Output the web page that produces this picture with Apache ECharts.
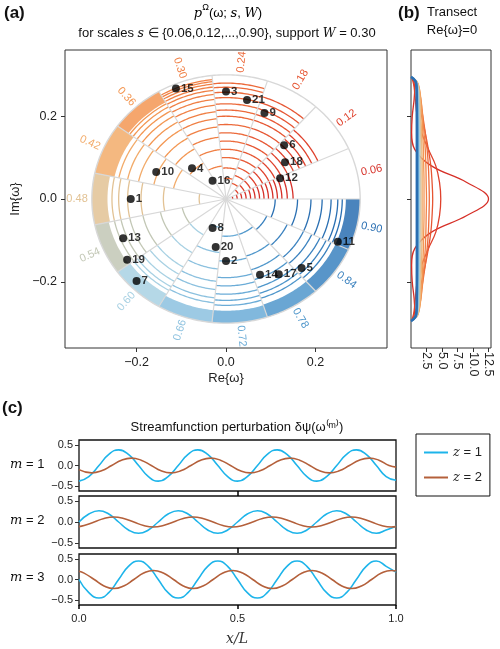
<!DOCTYPE html>
<html><head><meta charset="utf-8">
<script src="https://cdn.jsdelivr.net/npm/echarts@6/dist/echarts.min.js"></script>
<style>html,body{margin:0;padding:0;background:#fff}#c{width:500px;height:649px}</style>
</head><body><div id="c"></div>
<script>
// ---------- DATA ----------
const scales = ['0.06','0.12','0.18','0.24','0.30','0.36','0.42','0.48','0.54','0.60','0.66','0.72','0.78','0.84','0.90'];
const scaleColors = ['#d62f27','#df412c','#e65633','#ec6a3b','#f08045','#f39753','#f2ab6a','#e2c294','#c2c7b5','#a8d1e3','#8cc1df','#6bacd7','#5097cb','#3b82bf','#2a6fb2'];
// arc radii per sector
const arcRadii = [
 [0.015,0.025,0.035,0.045,0.055,0.065,0.075,0.085,0.095,0.105,0.115,0.125,0.137,0.15],
 [0.03,0.045,0.06,0.075,0.09,0.105,0.12,0.135,0.15,0.165,0.18,0.195,0.21,0.225],
 [0.04,0.06,0.08,0.1,0.12,0.14,0.16,0.18,0.2,0.215,0.23,0.245,0.26],
 [0.05,0.075,0.1,0.12,0.14,0.16,0.18,0.2,0.215,0.23,0.245,0.258,0.27,0.28],
 [0.08,0.12,0.15,0.175,0.195,0.212,0.228,0.242,0.254,0.264,0.272,0.279,0.285,0.29],
 [0.1,0.14,0.17,0.195,0.215,0.232,0.246,0.257,0.266],
 [0.12,0.165,0.2,0.225,0.245],
 [0.06,0.14,0.19,0.22,0.24,0.255],
 [0.1,0.15,0.19,0.22,0.24,0.255],
 [0.1,0.15,0.19,0.21,0.23,0.245,0.255],
 [0.07,0.13,0.17,0.2,0.22,0.24,0.252],
 [0.09,0.15,0.19,0.21,0.23,0.245,0.257],
 [0.09,0.145,0.18,0.205,0.225,0.24,0.252],
 [0.1,0.15,0.19,0.21,0.23,0.245,0.257],
 [0.11,0.16,0.19,0.215,0.235,0.25,0.26]
];
// inner radius of dense rim band per sector (null = none)
const bandInner = [null,null,null,null,null,0.27,0.255,0.265,0.268,0.265,0.27,0.27,0.268,0.268,0.268];
// numbered points (Re, Im)
const ptLabels = ['1','2','3','4','5','6','7','8','9','10','11','12','13','14','15','16','17','18','19','20','21'];
const ptRe = [-0.213,0.0,0.0,-0.076,0.169,0.130,-0.200,-0.030,0.086,-0.156,0.250,0.121,-0.230,0.076,-0.112,-0.030,0.118,0.132,-0.221,-0.023,0.047];
const ptIm = [0.0,-0.150,0.260,0.074,-0.167,0.130,-0.198,-0.070,0.208,0.065,-0.103,0.050,-0.095,-0.183,0.267,0.044,-0.182,0.089,-0.147,-0.116,0.239];
// transect (b)
const imPts = [-0.295,-0.285,-0.27,-0.24,-0.2,-0.16,-0.12,-0.08,-0.04,0,0.04,0.08,0.12,0.16,0.2,0.24,0.27,0.285,0.295];
const transect = [
 [0,0.4,0.6,0.5,0.2,0.1,0.6,3.3,9.0,12.5,9.0,3.3,0.6,0.1,0.2,0.5,0.6,0.4,0],
 [0,0.3,0.5,0.7,1.0,1.7,2.8,4.0,4.6,4.8,4.6,4.0,2.8,1.7,1.0,0.7,0.5,0.3,0],
 [0,0.5,0.8,1.2,1.7,2.3,2.8,3.2,3.4,3.5,3.4,3.2,2.8,2.3,1.7,1.2,0.8,0.5,0],
 [0,0.6,1.0,1.4,1.9,2.3,2.6,2.8,2.9,2.95,2.9,2.8,2.6,2.3,1.9,1.4,1.0,0.6,0],
 [0,0.8,1.2,1.6,1.9,2.1,2.3,2.4,2.45,2.5,2.45,2.4,2.3,2.1,1.9,1.6,1.2,0.8,0],
 [0,0.9,1.3,1.6,1.8,1.9,2.0,2.05,2.1,2.1,2.1,2.05,2.0,1.9,1.8,1.6,1.3,0.9,0],
 [0,0.9,1.3,1.5,1.6,1.7,1.75,1.8,1.8,1.8,1.8,1.8,1.75,1.7,1.6,1.5,1.3,0.9,0],
 [0,0.9,1.2,1.4,1.5,1.55,1.6,1.6,1.6,1.6,1.6,1.6,1.6,1.55,1.5,1.4,1.2,0.9,0],
 [0,0.85,1.15,1.3,1.35,1.4,1.42,1.44,1.45,1.45,1.45,1.44,1.42,1.4,1.35,1.3,1.15,0.85,0],
 [0,0.8,1.1,1.2,1.25,1.3,1.3,1.32,1.33,1.33,1.33,1.32,1.3,1.3,1.25,1.2,1.1,0.8,0],
 [0,0.8,1.05,1.12,1.17,1.2,1.22,1.23,1.23,1.23,1.23,1.23,1.22,1.2,1.17,1.12,1.05,0.8,0],
 [0,0.8,1.0,1.07,1.1,1.12,1.13,1.14,1.14,1.14,1.14,1.14,1.13,1.12,1.1,1.07,1.0,0.8,0],
 [0,0.75,0.95,1.0,1.03,1.05,1.06,1.06,1.07,1.07,1.07,1.06,1.06,1.05,1.03,1.0,0.95,0.75,0],
 [0,0.75,0.92,0.97,0.99,1.0,1.0,1.0,1.0,1.0,1.0,1.0,1.0,1.0,0.99,0.97,0.92,0.75,0],
 [0,0.7,0.88,0.92,0.94,0.95,0.95,0.95,0.95,0.95,0.95,0.95,0.95,0.95,0.94,0.92,0.88,0.7,0]
];
// streamfunction (c)
const xsBlue = [0,0.031,0.063,0.094,0.125,0.156,0.188,0.219,0.25,0.281,0.313,0.344,0.375,0.406,0.438,0.469,0.5,0.531,0.563,0.594,0.625,0.656,0.688,0.719,0.75,0.781,0.813,0.844,0.875,0.906,0.938,0.969,1];
const blueM1 = [-0.38,-0.27,0,0.27,0.38,0.27,0,-0.27,-0.38,-0.27,0,0.27,0.38,0.27,0,-0.27,-0.38,-0.27,0,0.27,0.38,0.27,0,-0.27,-0.38,-0.27,0,0.27,0.38,0.27,0,-0.27,-0.36];
const blueM2 = [0,0.19,0.27,0.19,0,-0.19,-0.27,-0.19,0,0.19,0.27,0.19,0,-0.19,-0.27,-0.19,0,0.19,0.27,0.19,0,-0.19,-0.27,-0.19,0,0.19,0.27,0.19,0,-0.19,-0.27,-0.19,-0.1];
const blueM3 = [0,-0.32,-0.45,-0.32,0,0.32,0.45,0.32,0,-0.32,-0.45,-0.32,0,0.32,0.45,0.32,0,-0.32,-0.45,-0.32,0,0.32,0.45,0.32,0,-0.32,-0.45,-0.32,0,0.32,0.45,0.32,0.18];
const xsBrown1 = [0,0.04,0.071,0.103,0.134,0.165,0.196,0.228,0.259,0.29,0.321,0.353,0.384,0.415,0.446,0.478,0.509,0.54,0.571,0.603,0.634,0.665,0.696,0.728,0.759,0.79,0.821,0.853,0.884,0.915,0.946,0.978,1];
const brownM1 = [-0.1,-0.18,-0.13,0,0.13,0.18,0.13,0,-0.13,-0.18,-0.13,0,0.13,0.18,0.13,0,-0.13,-0.18,-0.13,0,0.13,0.18,0.13,0,-0.13,-0.18,-0.13,0,0.13,0.18,0.13,0,-0.04];
const xsBrown2 = [0,0.016,0.048,0.079,0.11,0.141,0.173,0.204,0.235,0.266,0.298,0.329,0.36,0.391,0.423,0.454,0.485,0.516,0.548,0.579,0.61,0.641,0.673,0.704,0.735,0.766,0.798,0.829,0.86,0.891,0.923,0.954,0.985,1];
const brownM2 = [-0.11,-0.085,0,0.085,0.12,0.085,0,-0.085,-0.12,-0.085,0,0.085,0.12,0.085,0,-0.085,-0.12,-0.085,0,0.085,0.12,0.085,0,-0.085,-0.12,-0.085,0,0.085,0.12,0.085,0,-0.085,-0.12,-0.11];
const brownM3 = [0.2,0.156,0,-0.156,-0.22,-0.156,0,0.156,0.22,0.156,0,-0.156,-0.22,-0.156,0,0.156,0.22,0.156,0,-0.156,-0.22,-0.156,0,0.156,0.22,0.156,0,-0.156,-0.22,-0.156,0,0.156,0.22,0.205];
const cBlue = '#1db4ea', cBrown = '#b4603b';

// ---------- CHART ----------
const FONT = 'Liberation Sans';
const D2R = Math.PI/180, SECT = 24, RMAX = 0.3;
function arcPts(api, r, a0, a1, n){ const p=[]; for(let k=0;k<=n;k++){const a=(a0+(a1-a0)*k/n)*D2R; p.push(api.coord([r*Math.cos(a), r*Math.sin(a)]));} return p; }
const arcData=[]; arcRadii.forEach((rs,i)=>rs.forEach(r=>arcData.push([i,r])));
const bandData=[]; bandInner.forEach((r,i)=>{ if(r!==null) bandData.push([i,r]); });
const spokeData = scales.map((s,i)=>[i,RMAX]);
const pts = ptRe.map((x,i)=>[x,ptIm[i],ptLabels[i]]);
const fmt = v => (v<0?'−':'')+Math.abs(v).toFixed(1);

const chart = echarts.init(document.getElementById('c'));
const sGrid = [{l:79,t:440,h:51},{l:79,t:496,h:52},{l:79,t:554,h:51}];
const series = [];
series.push({type:'custom', xAxisIndex:0, yAxisIndex:0, data:bandData, silent:true, z:2,
  renderItem:(p,api)=>{const i=api.value(0),r=api.value(1); const a0=i*SECT,a1=(i+1)*SECT;
    const pp=arcPts(api,RMAX,a0,a1,24).concat(arcPts(api,r,a1,a0,24));
    return {type:'polygon',shape:{points:pp},style:{fill:scaleColors[i],opacity:0.85}};}});
series.push({type:'custom', xAxisIndex:0, yAxisIndex:0, data:arcData, silent:true, z:3,
  renderItem:(p,api)=>{const i=api.value(0),r=api.value(1);
    return {type:'polyline',shape:{points:arcPts(api,r,i*SECT,(i+1)*SECT,24)},style:{stroke:scaleColors[i],lineWidth:1.3,fill:null}};}});
series.push({type:'custom', xAxisIndex:0, yAxisIndex:0, data:spokeData, silent:true, z:4,
  renderItem:(p,api)=>{const i=api.value(0),r=api.value(1); const a=i*SECT*D2R;
    const c0=api.coord([0,0]), c1=api.coord([r*Math.cos(a),r*Math.sin(a)]);
    const ch=[{type:'line',shape:{x1:c0[0],y1:c0[1],x2:c1[0],y2:c1[1]},style:{stroke:'#d8d8d8',lineWidth:1.2}},
      {type:'polyline',shape:{points:arcPts(api,r,i*SECT,(i+1)*SECT,24)},style:{stroke:'#d8d8d8',lineWidth:1.4,fill:null}}];
    const m=(i*SECT+SECT/2); const lp=api.coord([0.333*Math.cos(m*D2R),0.333*Math.sin(m*D2R)]);
    const rot=(m>90&&m<=270)?(m-180):m;
    ch.push({type:'text',x:lp[0],y:lp[1],rotation:rot*D2R,style:{text:scales[i],fill:scaleColors[i],font:'11px '+FONT,align:'center',verticalAlign:'middle'}});
    return {type:'group',children:ch};}});
series.push({type:'scatter', xAxisIndex:0, yAxisIndex:0, data:pts, symbolSize:8, z:10,
  itemStyle:{color:'#000'}, label:{show:true,position:'right',distance:1,formatter:p=>p.data[2],color:'#000',fontSize:11.5,fontWeight:'bold',fontFamily:FONT}});
transect.forEach((d,i)=>series.push({type:'line', xAxisIndex:1, yAxisIndex:1, data:d.map((v,k)=>[v,imPts[k]]),
  smooth:0.4, showSymbol:false, lineStyle:{color:scaleColors[i], width: i===14?2.6:1.3}, z:i+1}));
const blues=[[xsBlue,blueM1],[xsBlue,blueM2],[xsBlue,blueM3]];
const browns=[[xsBrown1,brownM1],[xsBrown2,brownM2],[xsBrown2,brownM3]];
for(let g=0;g<3;g++){
  series.push({name:'z = 1',type:'line',xAxisIndex:2+g,yAxisIndex:2+g,data:blues[g][0].map((x,k)=>[x,blues[g][1][k]]),smooth:0.5,showSymbol:false,lineStyle:{color:cBlue,width:1.6},itemStyle:{color:cBlue}});
  series.push({name:'z = 2',type:'line',xAxisIndex:2+g,yAxisIndex:2+g,data:browns[g][0].map((x,k)=>[x,browns[g][1][k]]),smooth:0.5,showSymbol:false,lineStyle:{color:cBrown,width:1.6},itemStyle:{color:cBrown}});
}
const axLab = {color:'#222',fontSize:12.5,fontFamily:FONT};
const noLine = {show:false,onZero:false};
const xAxis=[
 {gridIndex:0,type:'value',min:-0.36,max:0.36,axisLine:noLine,splitLine:{show:false},
  axisTick:{customValues:[-0.2,0,0.2],length:4,lineStyle:{color:'#333'}},axisLabel:Object.assign({customValues:[-0.2,0,0.2],formatter:fmt,fontSize:13},axLab),
  name:'Re{ω}',nameLocation:'middle',nameGap:24,nameTextStyle:{fontSize:13,fontFamily:FONT,color:'#222'}},
 {gridIndex:1,type:'value',min:0,max:12.9,axisLine:noLine,splitLine:{show:false},
  axisTick:{customValues:[2.5,5,7.5,10,12.5],length:4,lineStyle:{color:'#333'}},axisLabel:Object.assign({customValues:[2.5,5,7.5,10,12.5],formatter:v=>v.toFixed(1),rotate:-90,margin:4},axLab)}
];
const yAxis=[
 {gridIndex:0,type:'value',min:-0.36,max:0.36,axisLine:noLine,splitLine:{show:false},
  axisTick:{customValues:[-0.2,0,0.2],length:4,lineStyle:{color:'#333'}},axisLabel:Object.assign({customValues:[-0.2,0,0.2],formatter:fmt,fontSize:13},axLab),
  name:'Im{ω}',nameLocation:'middle',nameGap:38,nameTextStyle:{fontSize:13,fontFamily:FONT,color:'#222'}},
 {gridIndex:1,type:'value',min:-0.36,max:0.36,axisLine:noLine,splitLine:{show:false},
  axisTick:{customValues:[-0.2,0,0.2],length:4,lineStyle:{color:'#333'}},axisLabel:{show:false}}
];
for(let g=0;g<3;g++){
  xAxis.push({gridIndex:2+g,type:'value',min:0,max:1,axisLine:noLine,splitLine:{show:false},
    axisTick:{customValues:g===2?[0,0.5,1]:[0.5],length:g===2?4:5,lineStyle:{color:'#000',width:1.5}},
    axisLabel:{show:g===2,customValues:[0,0.5,1],formatter:v=>v.toFixed(1),color:'#222',fontSize:11,fontFamily:FONT,margin:8}});
  yAxis.push({gridIndex:2+g,type:'value',min:-0.62,max:0.62,axisLine:noLine,splitLine:{show:false},
    axisTick:{customValues:[-0.5,0,0.5],length:4,lineStyle:{color:'#333'}},
    axisLabel:{customValues:[-0.5,0,0.5],formatter:fmt,color:'#222',fontSize:11,fontFamily:FONT,margin:6}});
}
const T=(x,y,text,opt)=>({type:'text',x,y,style:Object.assign({text,fill:'#111',font:'13px '+FONT},opt||{})});
chart.setOption({
  animation:false,
  grid:[{left:65,top:50,width:322,height:298,show:true,borderColor:'#333',borderWidth:1},
        {left:411,top:50,width:80,height:298,show:true,borderColor:'#333',borderWidth:1}]
     .concat(sGrid.map(s=>({left:s.l,top:s.t,width:317,height:s.h,show:true,borderColor:'#111',borderWidth:1.3}))),
  xAxis, yAxis, series,
  legend:{data:['z = 1','z = 2'],orient:'vertical',left:416,top:434,width:67,padding:[12,8,12,8],itemGap:12,
    borderColor:'#111',borderWidth:1,icon:'rect',itemWidth:24,itemHeight:2,
    formatter:n=>n==='z = 1'?'{i|z} = 1':'{i|z} = 2',
    textStyle:{fontSize:13,fontFamily:FONT,color:'#222',rich:{i:{fontStyle:'italic',fontFamily:'DejaVu Serif',fontSize:13}}}},
  graphic:[
    T(4,5,'(a)',{font:'bold 17px '+FONT}),
    {type:'text',x:228,y:3,style:{text:'{i|p}{s|Ω}{n|(ω; }{i|s}{n|, }{i|W}{n|)}',align:'center',
      rich:{i:{fontStyle:'italic',fontFamily:'DejaVu Serif',fontSize:13},n:{fontFamily:FONT,fontSize:13},s:{fontFamily:FONT,fontSize:9,padding:[0,0,12,0]}}}},
    {type:'text',x:227,y:27,style:{text:'for scales {i|s} ∈ {0.06,0.12,...,0.90}, support {i|W} = 0.30',align:'center',font:'13px '+FONT,fill:'#111',
      rich:{i:{fontStyle:'italic',fontFamily:'DejaVu Serif',fontSize:12.5}}}},
    T(398,5,'(b)',{font:'bold 17px '+FONT}),
    T(452,6,'Transect',{font:'13px '+FONT,align:'center'}),
    T(452,24,'Re{ω}=0',{font:'13px '+FONT,align:'center'}),
    T(2,400,'(c)',{font:'bold 17px '+FONT}),
    T(237,421,'Streamfunction perturbation δψ(ω⁽ᵐ⁾)',{font:'13px '+FONT,align:'center'}),
    ...[['1',466],['2',522],['3',579]].map(([m,y])=>({type:'text',x:10,y:y-8,style:{text:'{i|m} = '+m,rich:{i:{fontStyle:'italic',fontFamily:'DejaVu Serif',fontSize:13}},font:'13px '+FONT,fill:'#111'}})),
    {type:'text',x:237,y:632,style:{text:'x/L',align:'center',font:'italic 14px DejaVu Serif',fill:'#333'}}
  ]
});
</script></body></html>
